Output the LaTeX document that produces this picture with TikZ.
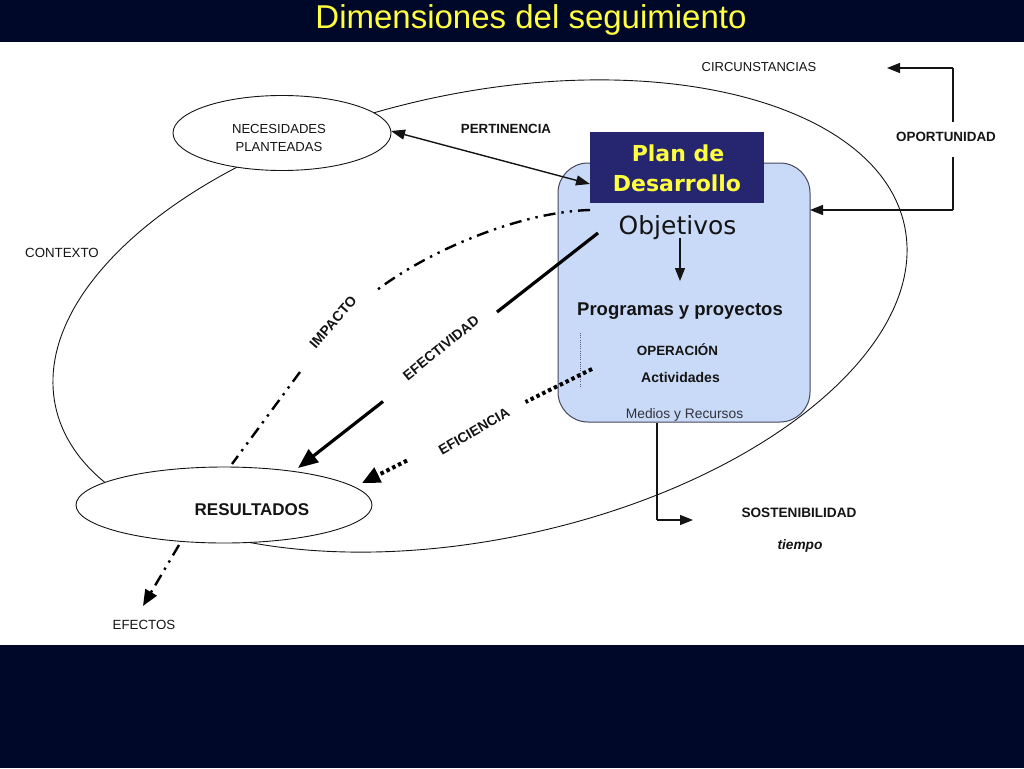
\documentclass[tikz,border=0pt]{standalone}
\usepackage{fontspec}
\setmainfont{Liberation Sans}
\newfontfamily\dejavu{DejaVu Sans}
\usetikzlibrary{shapes.geometric,arrows.meta}
\definecolor{band}{RGB}{0,8,42}
\definecolor{ttl}{RGB}{255,255,64}
\definecolor{plancol}{RGB}{38,38,112}
\definecolor{boxblue}{RGB}{201,218,248}
\definecolor{boxedge}{RGB}{70,70,90}
\definecolor{ink}{RGB}{20,20,20}
\newcommand{\fsz}[1]{\fontsize{#1}{#1}\selectfont}
\begin{document}
\begin{tikzpicture}[x=1pt,y=-1pt,
  lbl/.style={inner sep=0pt, text=ink, font=\fsz{13.2}},
  blbl/.style={inner sep=0pt, text=ink, font=\fsz{13.4}\bfseries},
  oval/.style={ellipse, draw=ink, line width=0.9pt, fill=white, inner sep=0pt},
  thinline/.style={draw=ink, line width=1.2pt},
  thinarrow/.style={thinline, -{Triangle[length=13pt,width=10pt]}},
  pertarrow/.style={draw=ink, line width=1.4pt, {Triangle[length=14pt,width=10pt]}-{Triangle[length=14pt,width=10pt]}},
  efectline/.style={draw=black, line width=3.2pt},
  efectarrow/.style={efectline, -{Triangle[length=20pt,width=16pt]}},
  eficline/.style={draw=black, line width=4pt, dash pattern=on 3.5pt off 3pt},
  eficarrow/.style={eficline, -{Triangle[length=18pt,width=16pt]}},
  impline/.style={draw=black, line width=2.4pt, dash pattern=on 12pt off 6pt on 2.4pt off 6pt on 2.4pt off 6pt},
  imparrow/.style={impline, -{Triangle[length=16pt,width=13pt]}},
  rotlbl/.style={inner sep=0pt, text=ink, font=\fsz{14}\bfseries}
]
\useasboundingbox (0,0) rectangle (1024,768);
\fill[white] (0,0) rectangle (1024,768);
\fill[band] (0,0) rectangle (1024,42);
\fill[band] (0,645) rectangle (1024,768);
\node[anchor=base, text=ttl, font=\fsz{33}, inner sep=0pt] (title) at (531,28.5) {Dimensiones del seguimiento};

% context ellipse
\node[ellipse, draw=ink, line width=0.9pt, minimum width=868pt, minimum height=446pt, inner sep=0pt, rotate=12] (ctx) at (480,316) {};

% ellipses
\node[oval, minimum width=218pt, minimum height=75pt] (nec) at (282,133) {};
\node[lbl, align=center, font=\fontsize{13.1}{18}\selectfont] (necT) at (279,138) {NECESIDADES\\PLANTEADAS};
\node[oval, minimum width=296pt, minimum height=76pt] (res) at (224,505) {};
\node[inner sep=0pt, text=ink, font=\fsz{17}\bfseries] (resT) at (252,510) {RESULTADOS};

% blue box and plan box
\node[draw=boxedge, line width=1pt, fill=boxblue, rounded corners=30pt, minimum width=252pt, minimum height=259pt, inner sep=0pt] (blue) at (684,292.5) {};
\node[fill=plancol, minimum width=174pt, minimum height=71pt, inner sep=0pt] (plan) at (677,167.5) {};
\node[anchor=base, inner sep=0pt, text=ttl, font=\dejavu\bfseries\fsz{22}] (planA) at (678,161) {Plan de};
\node[anchor=base, inner sep=0pt, text=ttl, font=\dejavu\bfseries\fsz{22}] (planB) at (677,191) {Desarrollo};
\node[anchor=base, inner sep=0pt, text=ink, font=\dejavu\fsz{25}] (obj) at (677.5,234) {Objetivos};
\node[anchor=base, inner sep=0pt, text=ink, font=\fsz{18.5}\bfseries] (prog) at (680,315) {Programas y proyectos};
\node[anchor=base, inner sep=0pt, text=ink, font=\fsz{13.4}\bfseries] (oper) at (677.5,355.5) {OPERACIÓN};
\node[anchor=base, inner sep=0pt, text=ink, font=\fsz{14}\bfseries] (act) at (680.5,382) {Actividades};
\node[anchor=base, inner sep=0pt, text={rgb,255:red,50;green,50;blue,60}, font=\fsz{13.8}] (med) at (684.5,418) {Medios y Recursos};

% free labels
\node[lbl, font=\fsz{13.3}] (contexto) at (62,253) {CONTEXTO};
\node[lbl, font=\fsz{13.3}] (efectos) at (144,625) {EFECTOS};
\node[lbl, font=\fsz{13}] (circ) at (759,67) {CIRCUNSTANCIAS};
\node[blbl, font=\fsz{13.3}\bfseries] (pert) at (506,129) {PERTINENCIA};
\node[blbl] (oport) at (946,137) {OPORTUNIDAD};
\node[blbl, font=\fsz{13.6}\bfseries] (sost) at (799,513) {SOSTENIBILIDAD};
\node[anchor=base, inner sep=0pt, text=ink, font=\fsz{13.7}\bfseries\itshape] (tiempo) at (800,549) {tiempo};

% coordinates for connector ends
\coordinate (pertA) at (391,131);
\coordinate (pertB) at (590,184);
\coordinate (o1) at (680,238);
\coordinate (o2) at (680,281);
\coordinate (op1) at (953,122);
\coordinate (op2) at (953,68);
\coordinate (op3) at (887,68);
\coordinate (op4) at (953,157);
\coordinate (op5) at (953,210);
\coordinate (op6) at (810,210);
\coordinate (m1) at (657,423);
\coordinate (m2) at (657,520);
\coordinate (m3) at (693,520);
\coordinate (im1) at (590,210);
\coordinate (im2) at (377,290);
\coordinate (im3) at (300,372);
\coordinate (im4) at (232,464);
\coordinate (ef1) at (179,545);
\coordinate (ef2) at (143,606);
\coordinate (ev1) at (598,233);
\coordinate (ev2) at (497,312);
\coordinate (ev3) at (383,401.5);
\coordinate (ev4) at (298,468);
\coordinate (ec1) at (592,369);
\coordinate (ec2) at (525.5,402);
\coordinate (ec3) at (407,460.6);
\coordinate (ec4) at (362,483);
\coordinate (dv1) at (580,333);
\coordinate (dv2) at (580,388);

% connectors
\draw[pertarrow] (pertA) -- (pertB);
\draw[thinarrow] (o1) -- (o2);
\draw[thinline] (op1) -- (op2);
\draw[thinarrow] (op2) -- (op3);
\draw[thinline] (op4) -- (op5);
\draw[thinarrow] (op5) -- (op6);
\draw[thinline] (m1) -- (m2);
\draw[thinarrow] (m2) -- (m3);
\draw[draw={rgb,255:red,90;green,90;blue,110}, line width=0.8pt, dash pattern=on 1pt off 1.2pt] (dv1) -- (dv2);

\draw[impline] (im1) .. controls (520,212) and (430,250) .. (im2);
\draw[impline] (im3) -- (im4);
\draw[imparrow] (ef1) -- (ef2);
\node[rotlbl, rotate=49] (impL) at (333,322) {IMPACTO};

\draw[efectline] (ev1) -- (ev2);
\draw[efectarrow] (ev3) -- (ev4);
\node[rotlbl, rotate=39] (efvL) at (441,348) {EFECTIVIDAD};

\draw[eficline] (ec1) -- (ec2);
\draw[eficarrow] (ec3) -- (ec4);
\node[rotlbl, rotate=30] (efcL) at (474,431) {EFICIENCIA};
\end{tikzpicture}
\end{document}
